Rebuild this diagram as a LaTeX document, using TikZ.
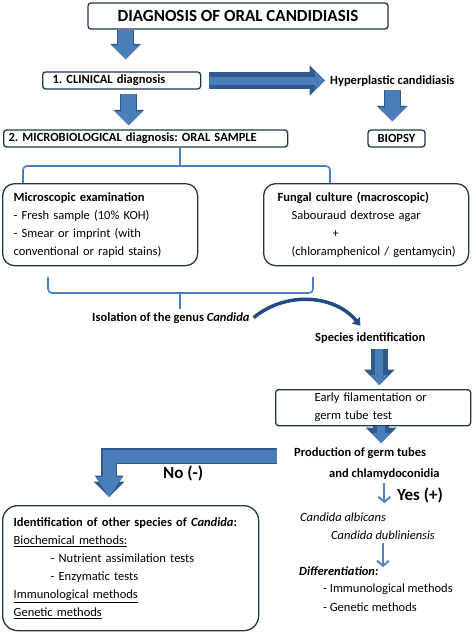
\documentclass[tikz,border=0pt]{standalone}
\usepackage{fontspec}
\setmainfont{Carlito}
\usetikzlibrary{arrows.meta}
\definecolor{boxline}{RGB}{31,53,80}
\definecolor{arrowfill}{RGB}{74,126,187}
\definecolor{arrowedge}{RGB}{47,90,138}
\definecolor{thinblue}{RGB}{74,134,200}
\definecolor{curveblue}{RGB}{35,75,130}
\newcommand{\bodysize}{\fontsize{12.5}{18}\selectfont}
\newcommand{\bigsize}{\fontsize{17}{20}\selectfont}
\frenchspacing
\begin{document}
\begin{tikzpicture}
    [x=1pt, y=-1pt,
    font=\bodysize,
    box/.style={draw=boxline, line width=1.3pt, rounded corners=3pt,
        fill=white, inner ysep=2pt},
    bigbox/.style={box, rounded corners=12pt, align=left},
    label/.style={anchor=base west, inner sep=4pt, font=\bodysize\bfseries},
    bigarrow/.style={line width=15pt, draw=arrowfill,
        -{Triangle[width=27pt,length=14pt]},
        preaction={draw=arrowedge, line width=16.5pt,
            -{Triangle[width=30pt,length=15.5pt]}}},
    medarrow/.style={bigarrow, line width=8pt,
        -{Triangle[width=17pt,length=10pt]},
        preaction={draw=arrowedge, line width=9.5pt,
            -{Triangle[width=19.5pt,length=11.5pt]}}},
    larrow/.style={bigarrow, line width=13pt, line join=miter,
        -{Triangle[width=25pt,length=20pt]},
        preaction={draw=arrowedge, line width=14.5pt, line join=miter,
            -{Triangle[width=27.5pt,length=21.5pt]}}},
    thinarrow/.style={draw=thinblue, line width=2pt,
        -{Straight Barb[length=5pt,width=12pt]}},
    bracket/.style={draw=arrowfill, line width=1.6pt, rounded corners=4pt}]
    \useasboundingbox (0,0) rectangle (474,632);
    % boxes
    \node[box, minimum width=300pt, minimum height=26pt,
        font=\bigsize\bfseries] (title) at (238,16)
        {DIAGNOSIS OF ORAL CANDIDIASIS};
    \node[box, anchor=west, text width=138pt, inner xsep=10pt,
        minimum height=17pt, align=left, font=\bodysize\bfseries] (clinical) at (42,80.5)
        {1. CLINICAL diagnosis};
    \node[box, anchor=west, text width=274pt, inner xsep=5pt,
        minimum height=17pt, align=left, font=\bodysize\bfseries] (microbio) at (3,138.5)
        {2. MICROBIOLOGICAL diagnosis: ORAL SAMPLE};
    \node[box, minimum width=57pt, minimum height=17pt, font=\bodysize\bfseries]
        (biopsy) at (396.5,138.5) {BIOPSY};
    \node[bigbox, anchor=north west, text width=173pt, inner xsep=11pt,
        minimum height=82pt] (microscopy) at (2,183)
        {\textbf{Microscopic examination}\\
        - Fresh sample (10\% KOH)\\
        - Smear or imprint (with\\
        conventional or rapid stains)};
    \node[bigbox, anchor=north west, text width=189pt, inner xsep=8pt,
        minimum height=82pt] (culture) at (263,183)
        {\hspace*{6pt}\textbf{Fungal culture (macroscopic)}\\
        \hspace*{20pt}Sabouraud dextrose agar\\
        \hspace*{61pt}+\\
        \hspace*{20pt}(chloramphenicol / gentamycin)};
    \node[box, anchor=north west, text width=117pt, inner xsep=39pt,
        minimum height=36pt, align=left] (germtest) at (275,389)
        {Early filamentation or\\ germ tube test};
    \node[bigbox, anchor=north west, text width=234pt, inner xsep=11pt,
        minimum height=125pt, rounded corners=15pt] (otherspecies) at (2,505)
        {\textbf{Identification of other species of \textit{Candida}:}\\
        \underline{Biochemical methods:}\\
        \hspace*{37pt}- Nutrient assimilation tests\\
        \hspace*{37pt}- Enzymatic tests\\
        \underline{Immunological methods}\\
        \underline{Genetic methods}\\[12pt]};
    % free texts
    \node[label] (hyper) at (326,84) {Hyperplastic candidiasis};
    \node[label] (isolation) at (88,321) {Isolation of the genus \textit{Candida}};
    \node[label] (species) at (311,341) {Species identification};
    \node[label] (production) at (290,456) {Production of germ tubes};
    \node[label] (chlamy) at (325,477) {and chlamydoconidia};
    \node[label, font=\bigsize\bfseries] (nolabel) at (159,478) {No (-)};
    \node[label, font=\bigsize\bfseries] (yeslabel) at (393,500) {Yes (+)};
    \node[label, font=\bodysize\itshape] (albicans) at (296,521) {Candida albicans};
    \node[label, font=\bodysize\itshape] (dubliniensis) at (327,539) {Candida dubliniensis};
    \node[label, font=\bodysize\bfseries\itshape] (differ) at (295,575) {Differentiation:};
    \node[label, font=\bodysize] (immuno) at (319,592) {- Immunological methods};
    \node[label, font=\bodysize] (genetic) at (319,611) {- Genetic methods};
    % brackets
    \coordinate (topleft) at (23,183);
    \coordinate (topmid) at (180,166);
    \coordinate (topright) at (330,183);
    \draw[bracket] (topleft) |- (topmid) -| (topright);
    \draw[bracket] (topmid) -- (topmid |- microbio.south);
    \coordinate (botleft) at (48,277);
    \coordinate (botmid) at (180,293);
    \coordinate (botright) at (313,277);
    \coordinate (bottip) at (180,309);
    \draw[bracket] (botleft) |- (botmid) -| (botright);
    \draw[bracket] (botmid) -- (bottip);
    % arrows
    \draw[bigarrow, shorten >=12pt]
        ([xshift=4pt]title.south -| clinical.north) -- ([xshift=4pt]clinical.north);
    \draw[bigarrow, shorten <=4.5pt, shorten >=4pt]
        ([xshift=7pt]clinical.south) -- ([xshift=7pt]clinical.south |- microbio.north);
    \draw[medarrow, shorten <=8pt, shorten >=1pt]
        (clinical.east) -- (clinical.east -| hyper.west);
    \draw[bigarrow, shorten >=8pt] (hyper.south) -- (hyper.south |- biopsy.north);
    \draw[curveblue, line width=3.5pt, -{Triangle[width=10pt,length=7pt]}, shorten >=3pt]
        (isolation.east) to[bend left=45] ([xshift=-8pt]species.north);
    \draw[medarrow, shorten <=2pt, shorten >=4pt]
        ([xshift=9pt]species.south) -- ([xshift=9pt]species.south |- germtest.north);
    \draw[medarrow]
        ([xshift=8pt]germtest.south) -- ([xshift=8pt]germtest.south |- production.north);
    \draw[larrow, shorten <=13pt, shorten >=8pt]
        (production.base west) -| ([xshift=-21.5pt]otherspecies.north);
    \draw[thinarrow, shorten >=5pt] (chlamy.south) -- (chlamy.south |- albicans.north);
    \draw[thinarrow, shorten >=-5pt]
        (dubliniensis.south) -- (dubliniensis.south |- differ.north);
\end{tikzpicture}
\end{document}
